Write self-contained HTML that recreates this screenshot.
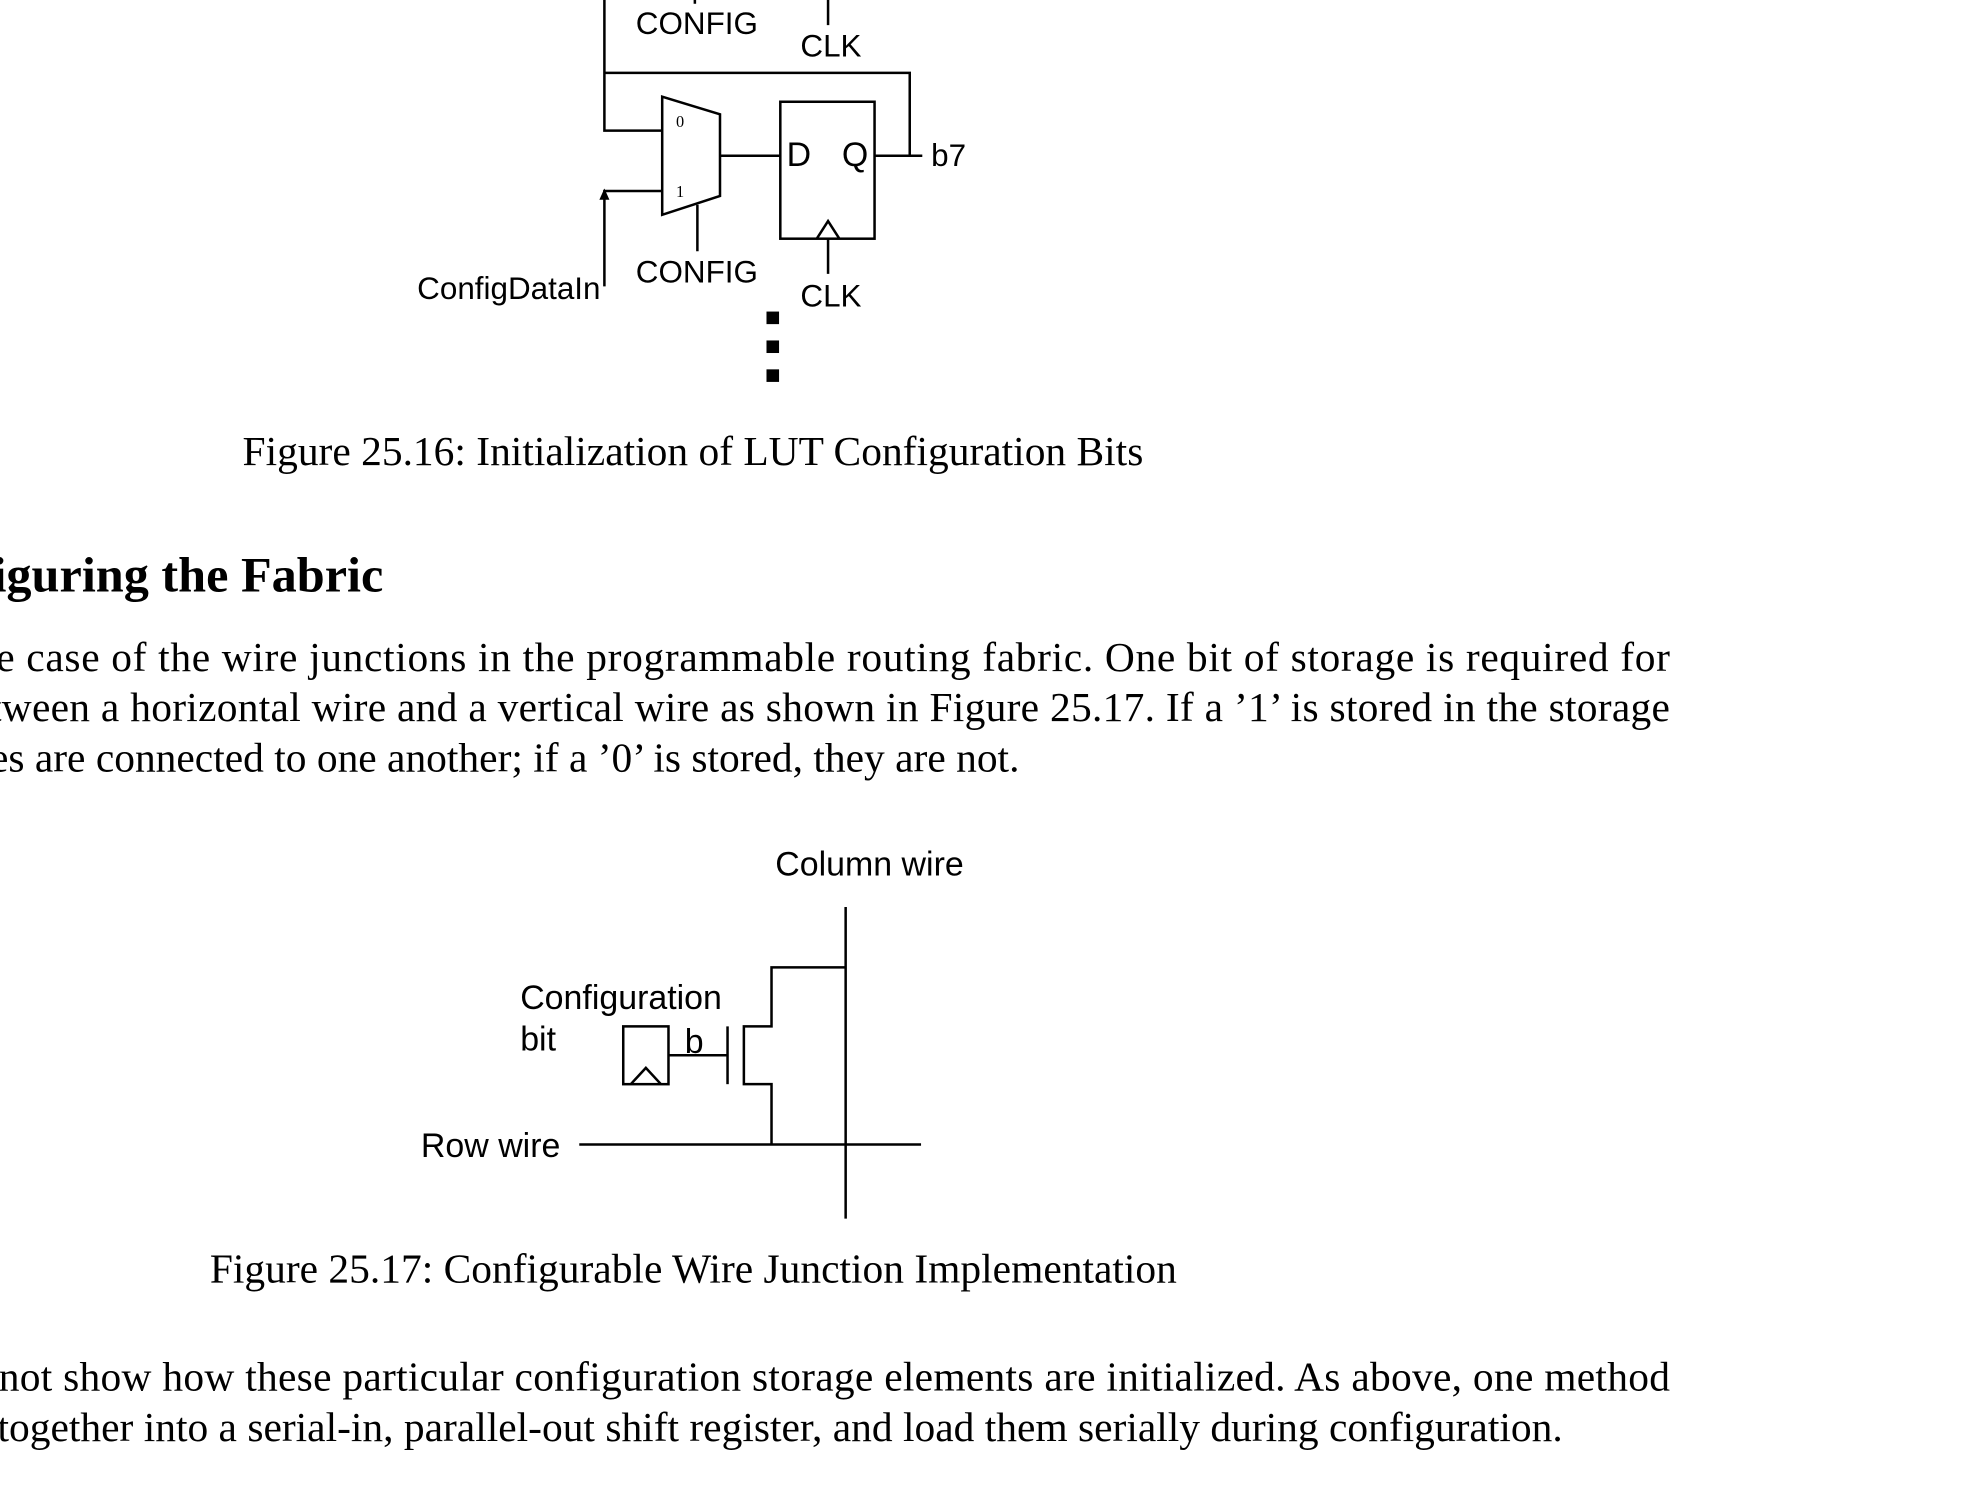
<!DOCTYPE html>
<html><head><meta charset="utf-8"><style>
html,body{margin:0;padding:0;background:#fff;}
svg{display:block;}
.s{font-family:"Liberation Sans",sans-serif;fill:#000;}
.r{font-family:"Liberation Serif",serif;fill:#000;}
</style></head><body>
<svg width="1969" height="1500" viewBox="0 0 1567 1194" preserveAspectRatio="none" xmlns="http://www.w3.org/2000/svg">
<g fill="none" stroke="#000" stroke-width="2">
<line x1="553" y1="0" x2="553" y2="3"/>
<line x1="659" y1="0" x2="659" y2="20"/>
<polyline points="481,0 481,104 527,104"/>
<polyline points="481,58 724,58 724,124"/>
<polygon points="527,77 573,91 573,156 527,171"/>
<line x1="573" y1="124" x2="621" y2="124"/>
<line x1="555" y1="163" x2="555" y2="200"/>
<polyline points="481,228 481,152 527,152"/>
<rect x="621" y="81" width="75" height="109"/>
<polyline points="650,190 659,176 668,190"/>
<line x1="659" y1="190" x2="659" y2="218"/>
<line x1="696" y1="124" x2="734" y2="124"/>
<line x1="673" y1="722" x2="673" y2="970"/>
<line x1="461" y1="911" x2="733" y2="911"/>
<polyline points="673,770 614,770 614,817 592,817 592,863 614,863 614,911"/>
<line x1="579" y1="817" x2="579" y2="863"/>
<line x1="532" y1="840" x2="579" y2="840"/>
<rect x="496" y="817" width="36" height="46"/>
<polyline points="502,863 514,850 526,863"/>
</g>
<polygon points="481,150 477,159 485,159" fill="#000"/>
<rect x="610" y="248" width="10" height="10" fill="#000"/>
<rect x="610" y="271" width="10" height="10" fill="#000"/>
<rect x="610" y="294" width="10" height="10" fill="#000"/>
<g class="s" font-size="25">
<text x="506" y="27">CONFIG</text>
<text x="637" y="45">CLK</text>
<text x="506" y="225">CONFIG</text>
<text x="637" y="244">CLK</text>
<text x="332" y="238">ConfigDataIn</text>
<text x="626" y="132" font-size="27">D</text>
<text x="670" y="132" font-size="27">Q</text>
<text x="741" y="132">b7</text>
</g>
<g class="r" font-size="13">
<text x="538" y="101">0</text>
<text x="538" y="157">1</text>
</g>
<g class="s" font-size="27">
<text x="617" y="697">Column wire</text>
<text x="414" y="803">Configuration</text>
<text x="414" y="836">bit</text>
<text x="545" y="838">b</text>
<text x="335" y="921">Row wire</text>
</g>
<g class="r" font-size="33">
<text x="193" y="370">Figure 25.16: Initialization of LUT Configuration Bits</text>
<text x="-6" y="471" font-size="40" font-weight="bold">iguring the Fabric</text>
<text x="-3" y="534" textLength="1332" lengthAdjust="spacing">e case of the wire junctions in the programmable routing fabric.  One bit of storage is required for</text>
<text x="-8" y="574" textLength="1337" lengthAdjust="spacing">tween a horizontal wire and a vertical wire as shown in Figure 25.17. If a ’1’ is stored in the storage</text>
<text x="-8" y="614">es are connected to one another; if a ’0’ is stored, they are not.</text>
<text x="167" y="1021">Figure 25.17: Configurable Wire Junction Implementation</text>
<text x="-1" y="1107" textLength="1330" lengthAdjust="spacing">not show how these particular configuration storage elements are initialized.  As above, one method</text>
<text x="-2" y="1147">together into a serial-in, parallel-out shift register, and load them serially during configuration.</text>
</g>
</svg>
</body></html>
